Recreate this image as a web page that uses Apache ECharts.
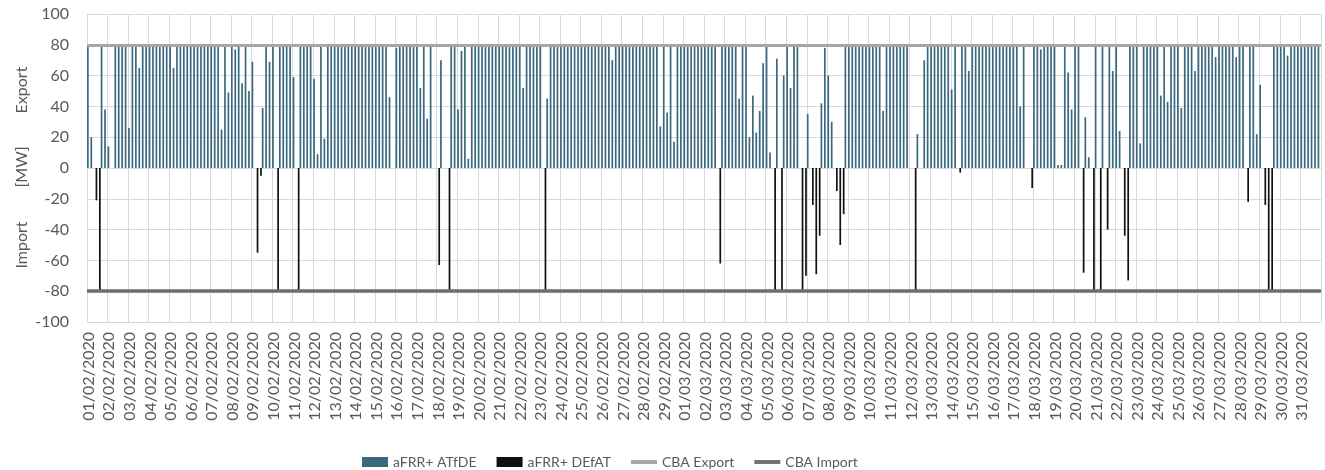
<!DOCTYPE html>
<html><head><meta charset="utf-8">
<script src="https://cdn.jsdelivr.net/npm/echarts@6/dist/echarts.min.js"></script>
<style>html,body{margin:0;padding:0;background:#fff}#c{width:1325px;height:470px}</style>
</head><body><div id="c"></div>
<script>
// Day tick labels (one per day, 6 four-hour blocks per day)
const dates = [
 '01/02/2020','02/02/2020','03/02/2020','04/02/2020','05/02/2020','06/02/2020','07/02/2020','08/02/2020','09/02/2020','10/02/2020',
 '11/02/2020','12/02/2020','13/02/2020','14/02/2020','15/02/2020','16/02/2020','17/02/2020','18/02/2020','19/02/2020','20/02/2020',
 '21/02/2020','22/02/2020','23/02/2020','24/02/2020','25/02/2020','26/02/2020','27/02/2020','28/02/2020','29/02/2020',
 '01/03/2020','02/03/2020','03/03/2020','04/03/2020','05/03/2020','06/03/2020','07/03/2020','08/03/2020','09/03/2020','10/03/2020',
 '11/03/2020','12/03/2020','13/03/2020','14/03/2020','15/03/2020','16/03/2020','17/03/2020','18/03/2020','19/03/2020','20/03/2020',
 '21/03/2020','22/03/2020','23/03/2020','24/03/2020','25/03/2020','26/03/2020','27/03/2020','28/03/2020','29/03/2020','30/03/2020','31/03/2020'
];
const blocks = ['00:00','04:00','08:00','12:00','16:00','20:00'];

// aFRR+ ATfDE [MW], 6 values per day
const atfde = [
 80,20,0,0,80,38,   14,0,80,80,80,80,   26,80,80,65,80,80,  80,80,80,80,80,80,  80,65,80,80,80,80,
 80,80,80,80,80,80, 80,80,80,25,80,49,  80,77,80,55,80,50,  69,0,0,39,80,69,    80,0,80,80,80,80,
 59,0,80,80,80,80,  58,9,80,19,80,80,   80,80,80,80,80,80,  80,80,80,80,80,80,  80,80,80,80,46,0,
 78,80,80,80,80,80, 80,52,80,32,80,0,   0,70,0,0,80,80,     38,76,80,6,80,80,   80,80,80,80,80,80,
 80,80,80,80,80,80, 80,52,80,80,80,80,  80,0,45,80,80,80,   80,80,80,80,80,80,  80,80,80,80,80,80,
 80,80,80,70,80,80, 80,80,80,80,80,80,  80,80,80,80,80,27,  80,36,80,17,80,80,  80,80,80,80,80,80,
 80,80,80,80,0,80,  80,80,80,80,45,80,  80,20,47,23,37,68,  80,10,0,71,0,60,    80,52,80,80,0,0,
 35,0,0,0,42,78,    60,30,0,0,0,80,     80,80,80,80,80,80,  80,80,80,80,37,80,  80,80,80,80,80,80,
 0,0,22,0,70,80,    80,80,80,80,80,80,  51,80,0,80,80,63,   80,80,80,80,80,80,  80,80,80,80,80,80,
 80,80,40,80,0,0,   80,80,77,80,80,80,  80,2,2,80,62,38,    80,80,0,33,7,0,     80,0,80,0,80,63,
 80,24,0,0,80,80,   80,16,80,80,80,80,  80,47,80,43,80,80,  80,39,80,80,80,63,  80,80,80,80,80,72,
 80,80,80,80,80,72, 80,80,0,80,80,22,   54,0,0,0,80,80,     80,80,73,80,80,80,  80,80,80,80,80,80
];

// aFRR+ DEfAT [MW], 6 values per day
const defat = [
 0,0,-21,-80,0,0, 0,0,0,0,0,0, 0,0,0,0,0,0, 0,0,0,0,0,0, 0,0,0,0,0,0,
 0,0,0,0,0,0, 0,0,0,0,0,0, 0,0,0,0,0,0, 0,-55,-5,0,0,0, 0,-80,0,0,0,0,
 0,-80,0,0,0,0, 0,0,0,0,0,0, 0,0,0,0,0,0, 0,0,0,0,0,0, 0,0,0,0,0,0,
 0,0,0,0,0,0, 0,0,0,0,0,0, -63,0,0,-80,0,0, 0,0,0,0,0,0, 0,0,0,0,0,0,
 0,0,0,0,0,0, 0,0,0,0,0,0, 0,-80,0,0,0,0, 0,0,0,0,0,0, 0,0,0,0,0,0,
 0,0,0,0,0,0, 0,0,0,0,0,0, 0,0,0,0,0,0, 0,0,0,0,0,0, 0,0,0,0,0,0,
 0,0,0,0,-62,0, 0,0,0,0,0,0, 0,0,0,0,0,0, 0,0,-80,0,-80,0, 0,0,0,0,-80,-70,
 0,-24,-69,-44,0,0, 0,0,-15,-50,-30,0, 0,0,0,0,0,0, 0,0,0,0,0,0, 0,0,0,0,0,0,
 0,-80,0,0,0,0, 0,0,0,0,0,0, 0,0,-3,0,0,0, 0,0,0,0,0,0, 0,0,0,0,0,0,
 0,0,0,0,0,-13, 0,0,0,0,0,0, 0,0,0,0,0,0, 0,0,-68,0,0,-80, 0,-80,0,-40,0,0,
 0,0,-44,-73,0,0, 0,0,0,0,0,0, 0,0,0,0,0,0, 0,0,0,0,0,0, 0,0,0,0,0,0,
 0,0,0,0,0,0, 0,0,-22,0,0,0, 0,-24,-80,-80,0,0, 0,0,0,0,0,0, 0,0,0,0,0,0
];

const cbaExport = 80;
const cbaImport = -80;
const yMin = -100, yMax = 100, yStep = 20;

const categories = [];
dates.forEach(d => blocks.forEach(b => categories.push(d + ' ' + b)));

const FONT = 'Lato';
const GREY = '#595959';
const LINE_ICON = 'path://M0,0 L20,0 L20,3 L0,3 Z';
const chart = echarts.init(document.getElementById('c'), null, {renderer: 'canvas'});
chart.setOption({
  animation: false,
  textStyle: {fontFamily: FONT},
  grid: {left: 87, right: 4, top: 14, bottom: 148, containLabel: false},
  legend: {
    left: 357, top: 450, itemWidth: 26, itemHeight: 10, itemGap: 20,
    textStyle: {color: GREY, fontSize: 14, fontFamily: FONT},
    data: [
      {name: 'aFRR+ ATfDE', icon: 'rect'},
      {name: 'aFRR+ DEfAT', icon: 'rect'},
      {name: 'CBA Export', icon: LINE_ICON},
      {name: 'CBA Import', icon: LINE_ICON}
    ]
  },
  graphic: [
    {type: 'text', x: 22, y: 90, rotation: Math.PI / 2,
     style: {text: 'Export', fill: GREY, font: '16px ' + FONT, textAlign: 'center', textVerticalAlign: 'middle'}},
    {type: 'text', x: 22, y: 167, rotation: Math.PI / 2,
     style: {text: '[MW]', fill: GREY, font: '16px ' + FONT, textAlign: 'center', textVerticalAlign: 'middle'}},
    {type: 'text', x: 22, y: 245, rotation: Math.PI / 2,
     style: {text: 'Import', fill: GREY, font: '16px ' + FONT, textAlign: 'center', textVerticalAlign: 'middle'}}
  ],
  xAxis: {
    type: 'category', data: categories, boundaryGap: true,
    axisLine: {show: false, onZero: false},
    axisTick: {show: false},
    axisLabel: {interval: 5, rotate: 90, margin: 10, color: GREY, fontSize: 16, fontFamily: FONT,
      formatter: v => v.slice(0, 10)},
    splitLine: {show: true, interval: 5, lineStyle: {color: '#D9D9D9', width: 1}}
  },
  yAxis: {
    type: 'value', min: yMin, max: yMax, interval: yStep,
    axisLine: {show: false}, axisTick: {show: false},
    axisLabel: {color: GREY, fontSize: 16, margin: 18, fontFamily: FONT},
    splitLine: {lineStyle: {color: '#D9D9D9', width: 1}}
  },
  series: [
    {name: 'aFRR+ ATfDE', type: 'bar', data: atfde, barGap: '0%', barCategoryGap: '0%',
     itemStyle: {color: '#3B6A80'}},
    {name: 'aFRR+ DEfAT', type: 'bar', data: defat,
     itemStyle: {color: '#111111'}},
    {name: 'CBA Export', type: 'line', data: [], symbol: 'none',
     itemStyle: {color: '#A6A6A6'}, lineStyle: {color: '#A6A6A6', width: 3},
     markLine: {silent: true, symbol: 'none', label: {show: false},
       lineStyle: {color: '#A6A6A6', width: 3, type: 'solid'}, data: [{yAxis: cbaExport}]}},
    {name: 'CBA Import', type: 'line', data: [], symbol: 'none',
     itemStyle: {color: '#6E6E6E'}, lineStyle: {color: '#6E6E6E', width: 3},
     markLine: {silent: true, symbol: 'none', label: {show: false},
       lineStyle: {color: '#6E6E6E', width: 3.5, type: 'solid'}, data: [{yAxis: cbaImport}]}}
  ]
});
</script></body></html>
